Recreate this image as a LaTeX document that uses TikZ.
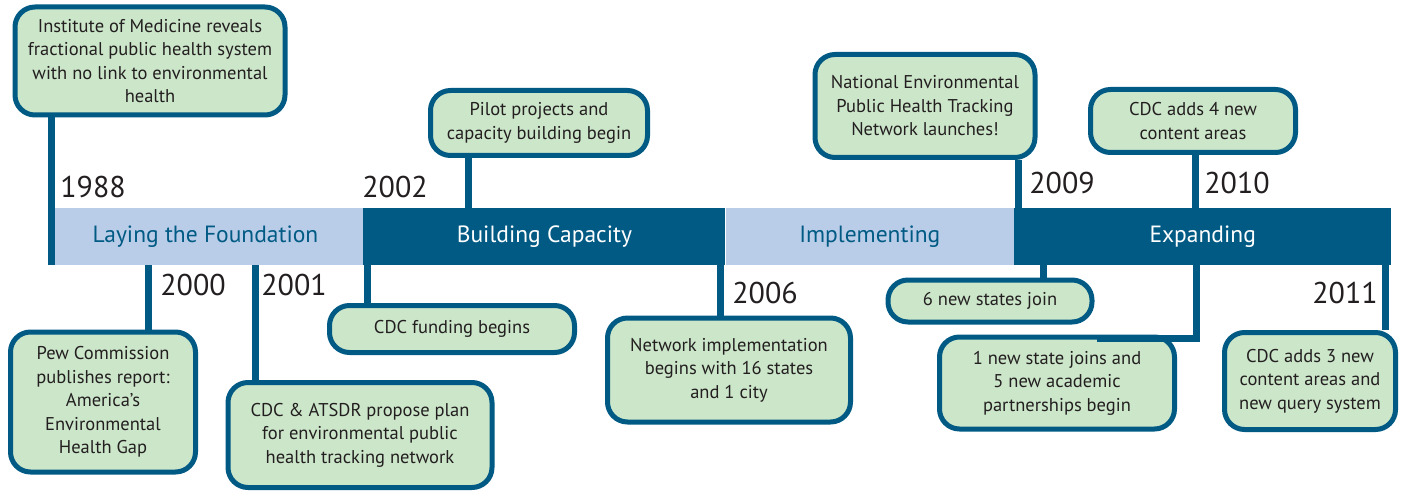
\documentclass[tikz,border=0pt]{standalone}
\usepackage{fontspec}
\setmainfont{PT Sans}
\usepackage{xcolor}
\usepackage{tikz}
\usetikzlibrary{positioning}
\definecolor{tealblue}{HTML}{005A84}
\definecolor{paleblue}{HTML}{B9CDE8}
\definecolor{palegreen}{HTML}{CCE6C9}
\definecolor{inkgray}{HTML}{231F20}

\begin{document}
\begin{tikzpicture}[x=1pt,y=-1pt,
    event/.style={rectangle, rounded corners=20pt, draw=tealblue, line width=5pt, fill=palegreen, align=center, text=inkgray, inner sep=0pt, font=\fontsize{18.5}{23.5}\selectfont},
    phase/.style={rectangle, minimum height=57pt, inner sep=0pt, font=\fontsize{23.5}{26}\selectfont},
    year/.style={inner sep=0pt, text=inkgray, font=\fontsize{30}{32}\selectfont},
    conn/.style={draw=tealblue, line width=7pt}]
      \useasboundingbox (0,0) rectangle (1406,492);
      % the four phases of the bar
      \node (found) [phase, fill=paleblue, text=tealblue, minimum width=315pt] at (205.5,236.5) {Laying the Foundation};
      \node (build) [phase, fill=tealblue, text=white, minimum width=362pt, right=0pt of found] {Building Capacity};
      \node (impl) [phase, fill=paleblue, text=tealblue, minimum width=288pt, right=0pt of build] {Implementing\hspace{26pt}};
      \node (expand) [phase, fill=tealblue, text=white, minimum width=377pt, right=0pt of impl] {Expanding};
      % events
      \node (iom) [event, minimum width=270pt, minimum height=108pt] at (150,61) {Institute of Medicine reveals\\fractional public health system\\with no link to environmental\\health};
      \node (pew) [event, minimum width=185pt, minimum height=140pt] at (103,402) {Pew Commission\\publishes report:\\America's\\Environmental\\Health Gap};
      \node (atsdr) [event, minimum width=264pt, minimum height=105pt] at (360,435) {CDC \& ATSDR propose plan\\for environmental public\\health tracking network};
      \node (pilot) [event, minimum width=217pt, minimum height=65pt] at (539,123) {Pilot projects and\\capacity building begin};
      \node (fund) [event, minimum width=245pt, minimum height=47pt] at (452,329) {CDC funding begins};
      \node (network) [event, minimum width=243pt, minimum height=104pt] at (729,370) {Network implementation\\begins with 16 states\\and 1 city};
      \node (launch) [event, minimum width=220pt, minimum height=103pt] at (925,106) {National Environmental\\Public Health Tracking\\Network launches!};
      \node (states) [event, minimum width=204pt, minimum height=42pt] at (990,301) {6 new states join};
      \node (onestate) [event, minimum width=235pt, minimum height=92pt] at (1057,383) {1 new state joins and\\5 new academic\\partnerships begin};
      \node (four) [event, minimum width=205pt, minimum height=63pt] at (1193,121) {CDC adds 4 new\\content areas};
      \node (three) [event, minimum width=171pt, minimum height=97pt] at (1310,381) {CDC adds 3 new\\content areas and\\new query system};
      % years
      \node (y1988) [year] at (93,187) {1988};
      \node (y2000) [year] at (193,285) {2000};
      \node (y2001) [year] at (294,285) {2001};
      \node (y2002) [year] at (395,187) {2002};
      \node (y2006) [year] at (765,293) {2006};
      \node (y2009) [year] at (1062,183) {2009};
      \node (y2010) [year] at (1237,183) {2010};
      \node (y2011) [year] at (1345,293) {2011};
      % connectors
      \draw[conn] ([xshift=4pt]found.south west) -- ([xshift=4pt]found.south west |- iom.south);
      \draw[conn] ([xshift=45pt]pew.north) -- ([xshift=45pt]pew.north |- found.south);
      \draw[conn] ([xshift=-105pt]atsdr.north) -- ([xshift=-105pt]atsdr.north |- found.south);
      \draw[conn] ([xshift=-71pt]pilot.south) -- ([xshift=-71pt]pilot.south |- build.north);
      \draw[conn] ([xshift=-85pt]fund.north) -- ([xshift=-85pt]fund.north |- build.south);
      \draw[conn] ([xshift=-9pt]network.north) -- ([xshift=-9pt]network.north |- build.south);
      \draw[conn] ([xshift=93pt]launch.south) -- ([xshift=93pt]launch.south |- expand.north);
      \draw[conn] ([xshift=53pt]states.north) -- ([xshift=53pt]states.north |- expand.south);
      \draw[conn] ([xshift=2pt]four.south) -- ([xshift=2pt]four.south |- expand.north);
      \draw[conn] ([xshift=139pt]onestate.north |- expand.south) |- ([xshift=40pt,yshift=-4pt]onestate.north);
      \draw[conn] ([xshift=75pt]three.north) -- ([xshift=75pt]three.north |- expand.south);
  \end{tikzpicture}
\end{document}
